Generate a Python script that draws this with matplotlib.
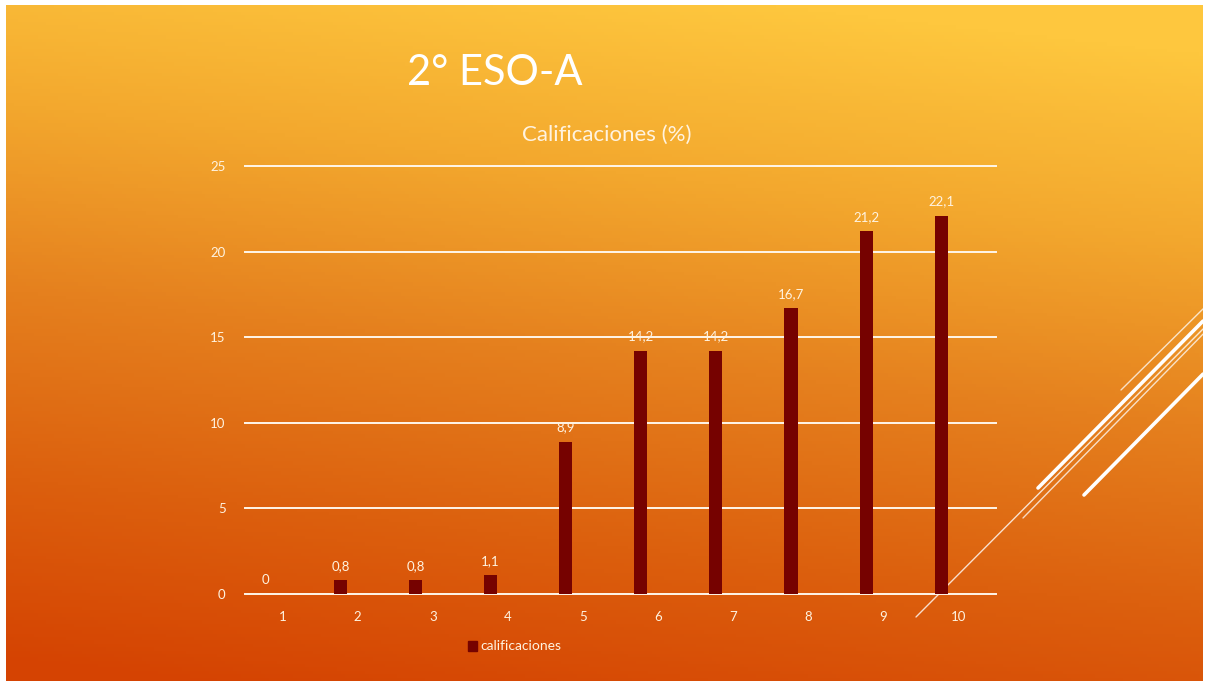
import matplotlib.pyplot as plt
import numpy as np
from matplotlib.colors import LinearSegmentedColormap

plt.rcParams['font.family'] = ['Lato', 'DejaVu Sans']

#chart data
categories = [1, 2, 3, 4, 5, 6, 7, 8, 9, 10]
values = [0, 0.8, 0.8, 1.1, 8.9, 14.2, 14.2, 16.7, 21.2, 22.1]
labels = ['0', '0,8', '0,8', '1,1', '8,9', '14,2', '14,2', '16,7', '21,2', '22,1']
yticks = [0, 5, 10, 15, 20, 25]

W, H = 1209, 682
fig = plt.figure(figsize=(W / 100, H / 100), dpi=100, facecolor='white')

#slide background with gradient
bg = fig.add_axes([0, 0, 1, 1])
bg.set_xlim(0, W)
bg.set_ylim(H, 0)
bg.axis('off')
cmap = LinearSegmentedColormap.from_list('slide', ['#FEC73E', '#F3A82E', '#E5801E', '#DC600E', '#D54302'])
xx, yy = np.meshgrid(np.linspace(0, 1, 300), np.linspace(0, 1, 200))
t = np.clip(0.9 * yy + 0.18 * (1 - xx) - 0.06, 0, 1)
bg.imshow(t, cmap=cmap, extent=[6, 1203, 681, 5], aspect='auto', vmin=0, vmax=1)

#decorative lines on the right
deco = [((916, 617), (1209, 323), 1.0, 0.8),
        ((1023, 518), (1209, 328), 1.0, 0.75),
        ((1121, 390), (1209, 303), 1.0, 0.75),
        ((1038, 488), (1209, 315), 2.6, 1.0),
        ((1084, 495), (1209, 368), 2.6, 1.0)]
for (x0, y0), (x1, y1), lw, a in deco:
    bg.plot([x0, min(x1, 1203)], [y0, y0 - (min(x1, 1203) - x0) * (y0 - y1) / (x1 - x0)],
            color='white', lw=lw, alpha=a, solid_capstyle='round')

#titles
fig.text(495 / W, 1 - 73 / H, '2° ESO-A', color='white', fontsize=30, ha='center', va='center')
fig.text(607 / W, 1 - 135 / H, 'Calificaciones (%)', color='#FFF3E0', fontsize=16,
         ha='center', va='center')

#chart
ax = fig.add_axes([245 / W, 1 - 594 / H, 751 / W, 428 / H])
ax.patch.set_alpha(0)
for s in ax.spines.values():
    s.set_visible(False)
ax.set_xlim(0.5, 10.5)
ax.set_ylim(0, 25)
for y in yticks:
    ax.axhline(y, color='#FFF6EA', lw=1.4, clip_on=False, zorder=1)

xs = np.array(categories) - 0.23
ax.bar(xs, values, width=0.175, color='#760200', zorder=3)
for x, v, l in zip(xs, values, labels):
    ax.annotate(l, (x, v), xytext=(0, 6), textcoords='offset points', ha='center', va='bottom',
                color='#FFF3E0', fontsize=9.5)

ax.set_xticks(categories)
ax.set_xticklabels([str(c) for c in categories])
ax.set_yticks(yticks)
ax.tick_params(length=0, colors='#FFF3E0', labelsize=9.5)
ax.tick_params(axis='x', pad=12)
ax.tick_params(axis='y', pad=14)

#legend
fig.patches.append(plt.Rectangle((468 / W, 1 - 651 / H), 9 / W, 10 / H, transform=fig.transFigure,
                                 color='#760200', figure=fig))
fig.text(480 / W, 1 - 646 / H, 'calificaciones', color='#FFF3E0', fontsize=10, ha='left', va='center')

fig.savefig('out.png', dpi=100, facecolor='white')
